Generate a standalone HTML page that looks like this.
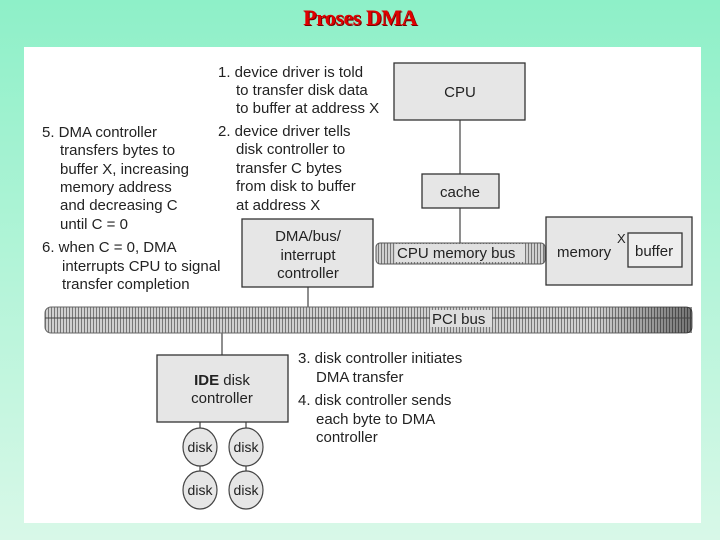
<!DOCTYPE html>
<html><head><style>
html,body{margin:0;padding:0}
body{width:720px;height:540px;background:linear-gradient(#8ef0c8,#d8f8e8);overflow:hidden;position:relative}
</style></head><body>
<svg width="720" height="540" xmlns="http://www.w3.org/2000/svg" style="position:absolute;left:0;top:0">
<defs>
<pattern id="h" width="3" height="10" patternUnits="userSpaceOnUse"><rect width="3" height="10" fill="#d0d0d0"/><rect width="1" height="10" fill="#777"/></pattern>
<linearGradient id="shade" x1="0" y1="0" x2="1" y2="0"><stop offset="0.85" stop-color="#000" stop-opacity="0"/><stop offset="1" stop-color="#000" stop-opacity="0.45"/></linearGradient>
</defs>
<text x="361" y="26" text-anchor="middle" font-family="Liberation Serif,serif" font-size="22" font-weight="bold" fill="#700" letter-spacing="-0.5">Proses DMA</text>
<text x="360" y="25" text-anchor="middle" font-family="Liberation Serif,serif" font-size="22" font-weight="bold" fill="#e00000" letter-spacing="-0.5">Proses DMA</text>
<rect x="24" y="47" width="677" height="476" fill="#fff"/>
<g stroke="#444" stroke-width="1.2" fill="none">
<line x1="460" y1="120" x2="460" y2="174"/><line x1="460" y1="208" x2="460" y2="244"/>
<line x1="308" y1="287" x2="308" y2="312"/><line x1="222" y1="322" x2="222" y2="355"/>
<line x1="200" y1="422" x2="200" y2="428"/><line x1="246" y1="422" x2="246" y2="428"/>
<line x1="200" y1="466" x2="200" y2="472"/><line x1="246" y1="466" x2="246" y2="472"/>
</g>
<g stroke="#333" stroke-width="1.3" fill="#e6e6e6">
<rect x="394" y="63" width="131" height="57"/>
<rect x="422" y="174" width="77" height="34"/>
<rect x="242" y="219" width="131" height="68"/>
<rect x="546" y="217" width="146" height="68"/>
<rect x="157" y="355" width="131" height="67"/>
</g>
<rect x="628" y="233" width="54" height="34" fill="#eee" stroke="#333" stroke-width="1.3"/>
<rect x="376" y="243" width="169" height="21" rx="4" fill="url(#h)" stroke="#555"/>
<rect x="45" y="307" width="647" height="26" rx="6" fill="url(#h)" stroke="#666"/>
<rect x="45" y="307" width="647" height="26" fill="url(#shade)"/>
<line x1="45" y1="318" x2="692" y2="318" stroke="#444"/>
<g fill="#e6e6e6" stroke="#444" stroke-width="1.2">
<ellipse cx="200" cy="447" rx="17" ry="19"/><ellipse cx="246" cy="447" rx="17" ry="19"/>
<ellipse cx="200" cy="490" rx="17" ry="19"/><ellipse cx="246" cy="490" rx="17" ry="19"/>
</g>
<g font-family="Liberation Sans,Arial,sans-serif" font-size="15" fill="#222">
<text x="460" y="97" text-anchor="middle">CPU</text>
<text x="460" y="197" text-anchor="middle">cache</text>
<text x="308" y="241" text-anchor="middle">DMA/bus/</text>
<text x="308" y="260" text-anchor="middle">interrupt</text>
<text x="308" y="278" text-anchor="middle">controller</text>
<rect x="395" y="244" width="130" height="18" fill="#e0e0e0"/>
<text x="397" y="258">CPU memory bus</text>
<text x="557" y="257">memory</text>
<text x="617" y="243" font-size="13">X</text>
<text x="635" y="256">buffer</text>
<rect x="430" y="310" width="62" height="17" fill="#ddd"/>
<text x="432" y="324">PCI bus</text>
<text x="222" y="385" text-anchor="middle"><tspan font-weight="bold">IDE</tspan> disk</text>
<text x="222" y="403" text-anchor="middle">controller</text>
<g font-size="14" text-anchor="middle">
<text x="200" y="452">disk</text><text x="246" y="452">disk</text>
<text x="200" y="495">disk</text><text x="246" y="495">disk</text>
</g>
<text x="218" y="77">1. device driver is told</text>
<text x="236" y="95">to transfer disk data</text>
<text x="236" y="113">to buffer at address X</text>
<text x="218" y="136">2. device driver tells</text>
<text x="236" y="154">disk controller to</text>
<text x="236" y="173">transfer C bytes</text>
<text x="236" y="191">from disk to buffer</text>
<text x="236" y="210">at address X</text>
<text x="42" y="137">5. DMA controller</text>
<text x="60" y="155">transfers bytes to</text>
<text x="60" y="174">buffer X, increasing</text>
<text x="60" y="192">memory address</text>
<text x="60" y="210">and decreasing C</text>
<text x="60" y="229">until C = 0</text>
<text x="42" y="252">6. when C = 0, DMA</text>
<text x="62" y="271">interrupts CPU to signal</text>
<text x="62" y="289">transfer completion</text>
<text x="298" y="363">3. disk controller initiates</text>
<text x="316" y="382">DMA transfer</text>
<text x="298" y="405">4. disk controller sends</text>
<text x="316" y="424">each byte to DMA</text>
<text x="316" y="442">controller</text>
</g>
</svg>
</body></html>
